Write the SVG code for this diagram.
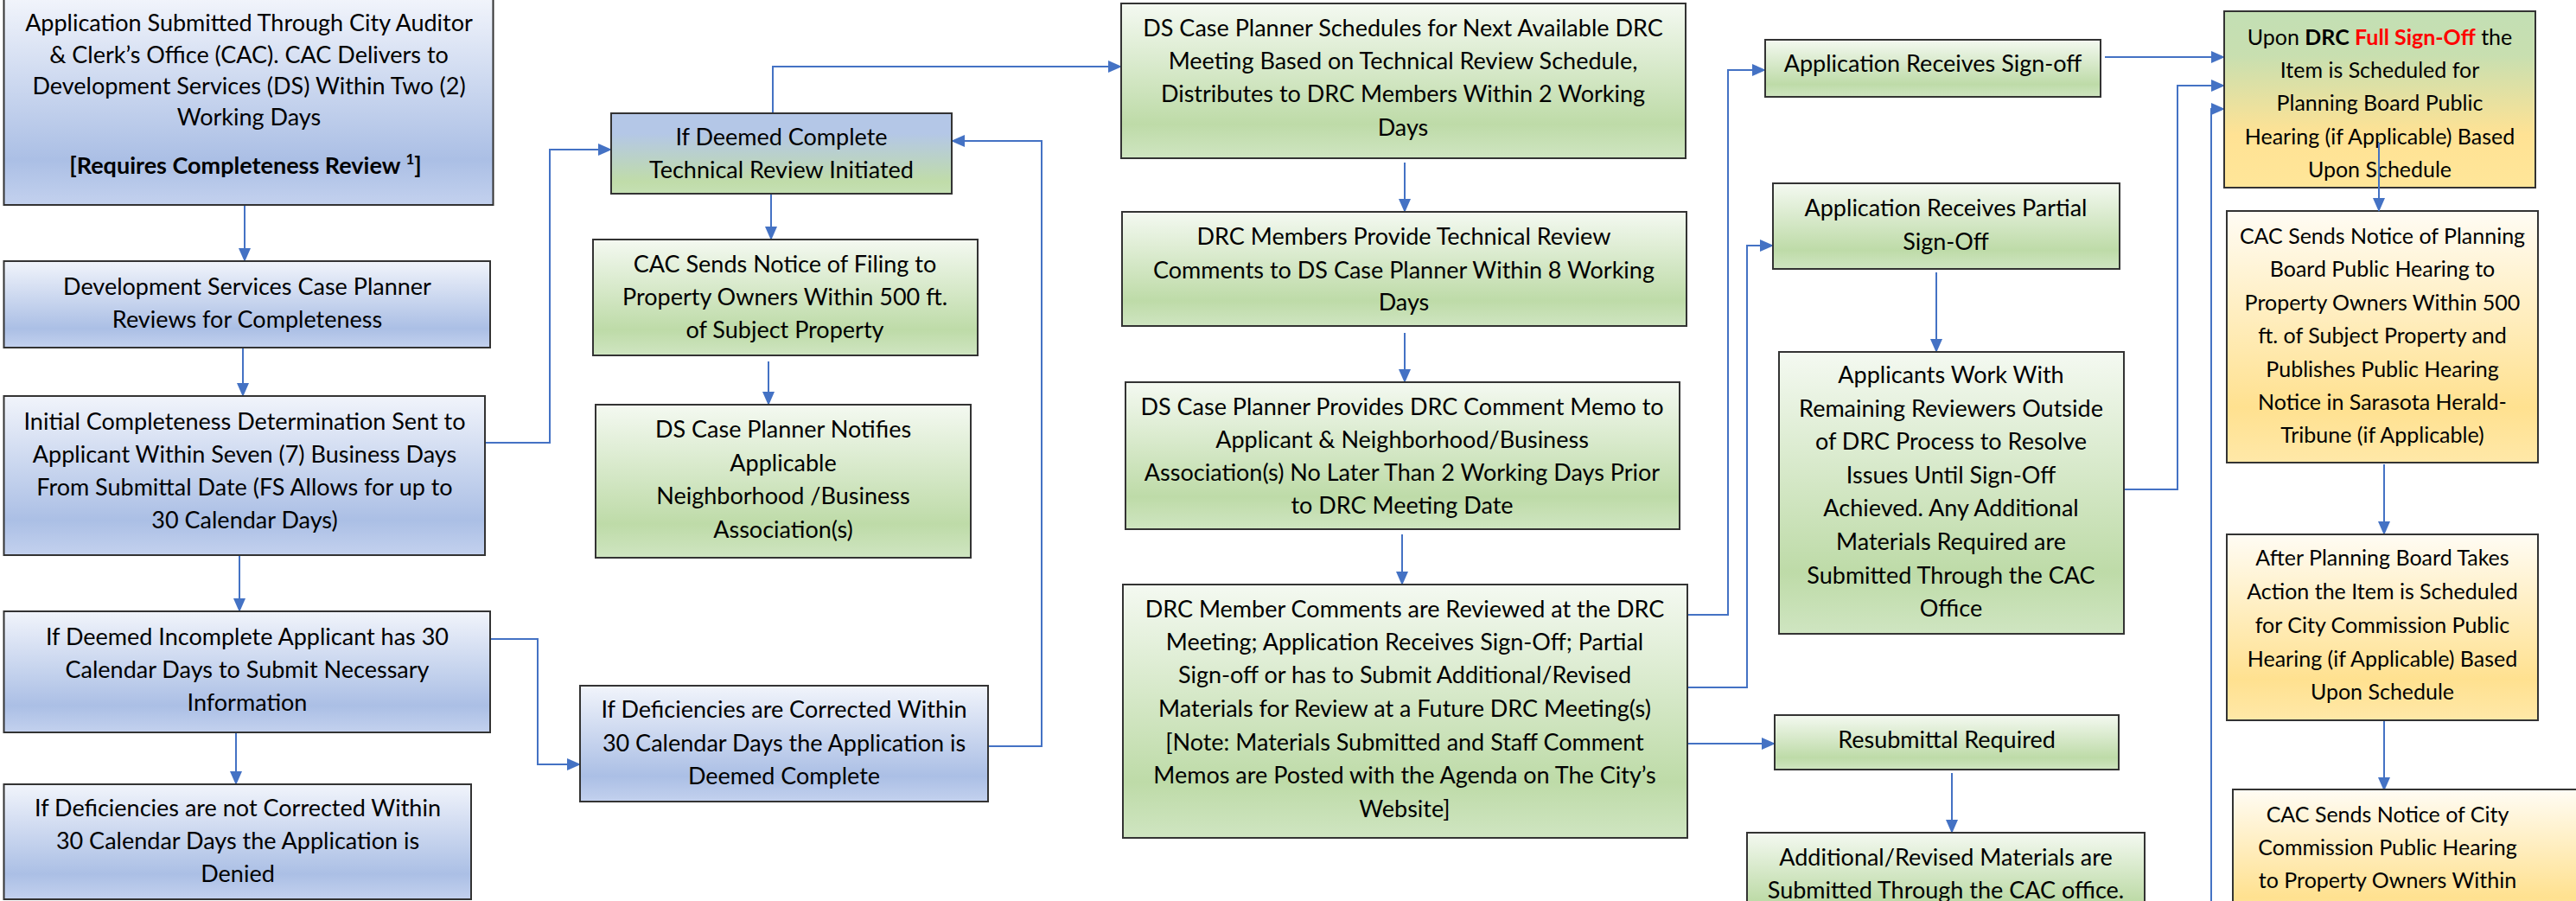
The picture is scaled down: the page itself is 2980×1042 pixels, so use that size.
<svg xmlns="http://www.w3.org/2000/svg" width="2980" height="1042" viewBox="0 0 2980 1042">
<defs>
<linearGradient id="gB" x1="0" y1="0" x2="0" y2="1">
<stop offset="0" stop-color="#f1f4fb"/><stop offset="0.78" stop-color="#abbfe5"/><stop offset="1" stop-color="#c3d1ee"/>
</linearGradient>
<linearGradient id="gG" x1="0" y1="0" x2="0" y2="1">
<stop offset="0" stop-color="#f4f9f1"/><stop offset="0.78" stop-color="#bedba8"/><stop offset="1" stop-color="#cfe5c1"/>
</linearGradient>
<linearGradient id="gY" x1="0" y1="0" x2="0" y2="1">
<stop offset="0" stop-color="#fffcf4"/><stop offset="0.78" stop-color="#ffe190"/><stop offset="1" stop-color="#ffe8a8"/>
</linearGradient>
<linearGradient id="gBG" x1="0" y1="0" x2="0" y2="1">
<stop offset="0" stop-color="#b4c7e7"/><stop offset="0.25" stop-color="#b4c7e7"/><stop offset="0.85" stop-color="#c0dca9"/><stop offset="1" stop-color="#c5e0b4"/>
</linearGradient>
<linearGradient id="gGY" x1="0" y1="0" x2="0" y2="1">
<stop offset="0" stop-color="#c3dfb4"/><stop offset="0.25" stop-color="#c8dfb0"/><stop offset="0.7" stop-color="#ffe294"/><stop offset="1" stop-color="#ffe699"/>
</linearGradient>
<marker id="ah" viewBox="0 0 16 14" refX="15" refY="7" markerWidth="16" markerHeight="14" markerUnits="userSpaceOnUse" orient="auto">
<path d="M0,0 L16,7 L0,14 Z" fill="#4472c4"/>
</marker>
<style>
.t{font-family:Lato,"Liberation Sans",sans-serif;font-size:27px;text-anchor:middle;fill:#000}
.r{font-size:25px}
.bx{stroke:#333;stroke-width:2}
.b{fill:url(#gB)}
.g{fill:url(#gG)}
.y{fill:url(#gY)}
.c{fill:none;stroke:#4472c4;stroke-width:2;marker-end:url(#ah)}
.bold{font-weight:bold}
</style>
</defs>
<rect width="2980" height="1042" fill="#fff"/>

<g id="connectors">
<path class="c" d="M283,237 V302"/>
<path class="c" d="M281,402 V458"/>
<path class="c" d="M561,512 H636 V173 H707"/>
<path class="c" d="M277,642 V707"/>
<path class="c" d="M567,739 H622 V884 H671"/>
<path class="c" d="M273,847 V907"/>
<path class="c" d="M1143,863 H1205 V163 H1101"/>
<path class="c" d="M894,131 V77 H1297"/>
<path class="c" d="M892,224 V277"/>
<path class="c" d="M889,418 V468"/>
<path class="c" d="M1625,188 V245"/>
<path class="c" d="M1625,385 V442"/>
<path class="c" d="M1622,618 V676"/>
<path class="c" d="M1952,711 H1999 V81 H2042"/>
<path class="c" d="M1952,795 H2021 V284 H2051"/>
<path class="c" d="M1952,860 H2053"/>
<path class="c" d="M2435,66 H2573"/>
<path class="c" d="M2240,315 V407"/>
<path class="c" d="M2456,566 H2519 V99 H2573"/>
<path class="c" d="M2558,1042 V126 H2573"/>
<path class="c" d="M2258,894 V963"/>
<path class="c" d="M2758,537 V618"/>
<path class="c" d="M2758,833 V914"/>
</g>

<g id="nA">
<rect class="bx b" x="4.5" y="-1" width="566" height="238"/>
<text class="t" x="288" y="36">Application Submitted Through City Auditor</text>
<text class="t" x="288" y="73">&amp; Clerk’s Office (CAC). CAC Delivers to</text>
<text class="t" x="288" y="109">Development Services (DS) Within Two (2)</text>
<text class="t" x="288" y="145">Working Days</text>
<text class="t bold" x="284" y="201" font-size="28">[Requires Completeness Review <tspan font-size="17" dy="-11">1</tspan><tspan dy="11">]</tspan></text>
</g>
<g id="nB">
<rect class="bx b" x="4.5" y="302" width="562.5" height="100"/>
<text class="t" x="286" y="341">Development Services Case Planner</text>
<text class="t" x="286" y="379">Reviews for Completeness</text>
</g>
<g id="nC">
<rect class="bx b" x="4.5" y="458" width="556.5" height="184"/>
<text class="t" x="283" y="497">Initial Completeness Determination Sent to</text>
<text class="t" x="283" y="535">Applicant Within Seven (7) Business Days</text>
<text class="t" x="283" y="573">From Submittal Date (FS Allows for up to</text>
<text class="t" x="283" y="611">30 Calendar Days)</text>
</g>
<g id="nD">
<rect class="bx b" x="4.5" y="707" width="562.5" height="140"/>
<text class="t" x="286" y="746">If Deemed Incomplete Applicant has 30</text>
<text class="t" x="286" y="784">Calendar Days to Submit Necessary</text>
<text class="t" x="286" y="822">Information</text>
</g>
<g id="nF">
<rect class="bx b" x="4.5" y="907" width="540.5" height="133"/>
<text class="t" x="275" y="944">If Deficiencies are not Corrected Within</text>
<text class="t" x="275" y="982">30 Calendar Days the Application is</text>
<text class="t" x="275" y="1020">Denied</text>
</g>
<g id="nG">
<rect class="bx" fill="url(#gBG)" x="707" y="131" width="394" height="93"/>
<text class="t" x="904" y="168">If Deemed Complete</text>
<text class="t" x="904" y="206">Technical Review Initiated</text>
</g>
<g id="nI">
<rect class="bx g" x="686" y="277" width="445" height="134"/>
<text class="t" x="908" y="315">CAC Sends Notice of Filing to</text>
<text class="t" x="908" y="353">Property Owners Within 500 ft.</text>
<text class="t" x="908" y="391">of Subject Property</text>
</g>
<g id="nJ">
<rect class="bx g" x="689" y="468" width="434" height="177"/>
<text class="t" x="906" y="506">DS Case Planner Notifies</text>
<text class="t" x="906" y="545">Applicable</text>
<text class="t" x="906" y="583">Neighborhood /Business</text>
<text class="t" x="906" y="622">Association(s)</text>
</g>
<g id="nE">
<rect class="bx b" x="671" y="793" width="472" height="134"/>
<text class="t" x="907" y="830">If Deficiencies are Corrected Within</text>
<text class="t" x="907" y="869">30 Calendar Days the Application is</text>
<text class="t" x="907" y="907">Deemed Complete</text>
</g>
<g id="nH">
<rect class="bx g" x="1297" y="4" width="653" height="179"/>
<text class="t" x="1623" y="42">DS Case Planner Schedules for Next Available DRC</text>
<text class="t" x="1623" y="80">Meeting Based on Technical Review Schedule,</text>
<text class="t" x="1623" y="118">Distributes to DRC Members Within 2 Working</text>
<text class="t" x="1623" y="157">Days</text>
</g>
<g id="nK">
<rect class="bx g" x="1298" y="245" width="653" height="132"/>
<text class="t" x="1624" y="283">DRC Members Provide Technical Review</text>
<text class="t" x="1624" y="322">Comments to DS Case Planner Within 8 Working</text>
<text class="t" x="1624" y="359">Days</text>
</g>
<g id="nL">
<rect class="bx g" x="1302" y="442" width="641" height="170"/>
<text class="t" x="1622" y="480">DS Case Planner Provides DRC Comment Memo to</text>
<text class="t" x="1622" y="518">Applicant &amp; Neighborhood/Business</text>
<text class="t" x="1622" y="556">Association(s) No Later Than 2 Working Days Prior</text>
<text class="t" x="1622" y="594">to DRC Meeting Date</text>
</g>
<g id="nM">
<rect class="bx g" x="1299" y="676" width="653" height="293"/>
<text class="t" x="1625" y="714">DRC Member Comments are Reviewed at the DRC</text>
<text class="t" x="1625" y="752">Meeting; Application Receives Sign-Off; Partial</text>
<text class="t" x="1625" y="790">Sign-off or has to Submit Additional/Revised</text>
<text class="t" x="1625" y="829">Materials for Review at a Future DRC Meeting(s)</text>
<text class="t" x="1625" y="868">[Note: Materials Submitted and Staff Comment</text>
<text class="t" x="1625" y="906">Memos are Posted with the Agenda on The City’s</text>
<text class="t" x="1625" y="945">Website]</text>
</g>
<g id="nN">
<rect class="bx g" x="2042" y="46" width="388" height="66"/>
<text class="t" x="2236" y="83">Application Receives Sign-off</text>
</g>
<g id="nO">
<rect class="bx g" x="2051" y="212" width="401" height="99"/>
<text class="t" x="2251" y="250">Application Receives Partial</text>
<text class="t" x="2251" y="289">Sign-Off</text>
</g>
<g id="nQ">
<rect class="bx g" x="2058" y="407" width="399" height="326"/>
<text class="t" x="2257" y="443">Applicants Work With</text>
<text class="t" x="2257" y="482">Remaining Reviewers Outside</text>
<text class="t" x="2257" y="520">of DRC Process to Resolve</text>
<text class="t" x="2257" y="559">Issues Until Sign-Off</text>
<text class="t" x="2257" y="597">Achieved. Any Additional</text>
<text class="t" x="2257" y="636">Materials Required are</text>
<text class="t" x="2257" y="675">Submitted Through the CAC</text>
<text class="t" x="2257" y="713">Office</text>
</g>
<g id="nR">
<rect class="bx g" x="2053" y="827" width="398" height="63"/>
<text class="t" x="2252" y="865">Resubmittal Required</text>
</g>
<g id="nS">
<rect class="bx g" x="2021" y="963" width="460" height="100"/>
<text class="t" x="2251" y="1001">Additional/Revised Materials are</text>
<text class="t" x="2251" y="1039">Submitted Through the CAC office.</text>
</g>
<g id="nP">
<rect class="bx" fill="url(#gGY)" x="2573" y="13" width="360" height="204"/>
<text class="t r" x="2753" y="52">Upon <tspan class="bold">DRC</tspan> <tspan class="bold" fill="#ff0000">Full Sign-Off</tspan> the</text>
<text class="t r" x="2753" y="90">Item is Scheduled for</text>
<text class="t r" x="2753" y="128">Planning Board Public</text>
<text class="t r" x="2753" y="167">Hearing (if Applicable) Based</text>
<text class="t r" x="2753" y="205">Upon Schedule</text>
</g>
<g id="nT">
<rect class="bx y" x="2576" y="244" width="360" height="291"/>
<text class="t r" x="2756" y="282">CAC Sends Notice of Planning</text>
<text class="t r" x="2756" y="320">Board Public Hearing to</text>
<text class="t r" x="2756" y="359">Property Owners Within 500</text>
<text class="t r" x="2756" y="397">ft. of Subject Property and</text>
<text class="t r" x="2756" y="436">Publishes Public Hearing</text>
<text class="t r" x="2756" y="474">Notice in Sarasota Herald-</text>
<text class="t r" x="2756" y="512">Tribune (if Applicable)</text>
</g>
<g id="nU">
<rect class="bx y" x="2576" y="618" width="360" height="215"/>
<text class="t r" x="2756" y="654">After Planning Board Takes</text>
<text class="t r" x="2756" y="693">Action the Item is Scheduled</text>
<text class="t r" x="2756" y="732">for City Commission Public</text>
<text class="t r" x="2756" y="771">Hearing (if Applicable) Based</text>
<text class="t r" x="2756" y="809">Upon Schedule</text>
</g>
<g id="nV">
<rect class="bx y" x="2583" y="913" width="420" height="160"/>
<text class="t r" x="2762" y="951">CAC Sends Notice of City</text>
<text class="t r" x="2762" y="989">Commission Public Hearing</text>
<text class="t r" x="2762" y="1027">to Property Owners Within</text>
</g>
<path class="c" d="M2752,165 V244"/>
</svg>
